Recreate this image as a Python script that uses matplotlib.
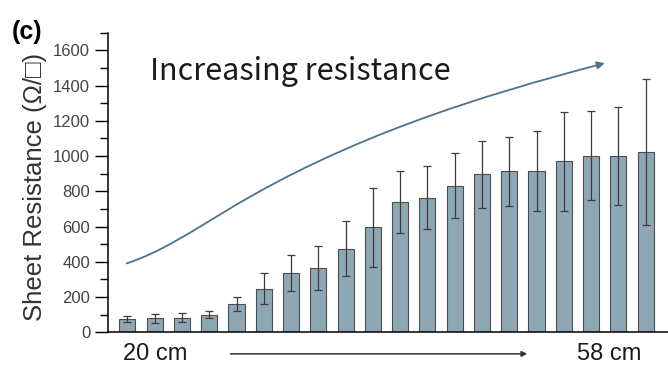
import numpy as np
import matplotlib
matplotlib.use("Agg")
import matplotlib.pyplot as plt
from matplotlib.ticker import MultipleLocator
from matplotlib.patches import FancyArrowPatch
from matplotlib.path import Path

# sheet resistance per sample, 20 cm -> 58 cm
resistance = [75, 79, 83, 100, 160, 246, 338, 367, 474, 596,
              741, 764, 832, 896, 914, 915, 970, 1002, 1002, 1022]
errors = [18, 24, 25, 20, 38, 88, 101, 125, 155, 223,
          175, 180, 184, 189, 196, 226, 281, 251, 278, 415]

# hand-drawn "increasing resistance" trend arrow: two bezier pieces
# (bar index, ohm/sq) -> start, ctrl, ctrl, mid, ctrl, ctrl, end
trend_pts = [(-0.03, 391), (1.2, 452), (2.44, 580), (3.67, 694),
             (8.1, 1110), (12.9, 1340), (17.5, 1527)]

bar_color = "#8ea7b5"
arrow_color = "#4b7391"

plt.rcParams["font.family"] = ["Liberation Sans", "DejaVu Sans"]

fig = plt.figure(figsize=(6.68, 3.66), dpi=100)
ax = fig.add_axes([107.5 / 668, 1 - 332.3 / 366, 1 - 107.5 / 668, (332.3 - 32.7) / 366])

x = np.arange(len(resistance))
ax.bar(x, resistance, width=0.59, color=bar_color, edgecolor="#4d4d4d",
       linewidth=0.8, zorder=2)
ax.errorbar(x, resistance, yerr=errors, fmt="none", ecolor="#3c3c3c",
            elinewidth=0.9, capsize=3, capthick=0.9, zorder=3)

ax.set_xlim(-0.73, 19.82)
ax.set_ylim(0, 1700)
ax.set_xticks([])
ax.yaxis.set_major_locator(MultipleLocator(200))
ax.yaxis.set_minor_locator(MultipleLocator(100))
ax.tick_params(axis="y", which="major", length=9.5, width=1, labelsize=12,
               labelcolor="#444444", pad=3)
ax.tick_params(axis="y", which="minor", length=5.5, width=1)
for s in ["top", "right"]:
    ax.spines[s].set_visible(False)
for s in ["left", "bottom"]:
    ax.spines[s].set_linewidth(1.1)

# trend arrow
codes = [Path.MOVETO] + [Path.CURVE4] * 6
trend = FancyArrowPatch(path=Path(trend_pts, codes), arrowstyle="-|>",
                        mutation_scale=11, color=arrow_color, lw=1.3,
                        transform=ax.transData, zorder=4)
ax.add_patch(trend)
ax.text(0.83, 1482, "Increasing resistance", fontsize=22,
        family=["Noto Sans CJK SC", "DejaVu Sans"], color="#1a1a1a",
        ha="left", va="center")

# length axis under the bars
trans = ax.get_xaxis_transform()
ax.text(1.03, -0.072, "20 cm", transform=trans, fontsize=17, ha="center",
        va="center", color="#1a1a1a")
ax.text(17.66, -0.072, "58 cm", transform=trans, fontsize=17, ha="center",
        va="center", color="#1a1a1a")
ax.annotate("", xy=(14.66, -0.072), xytext=(3.78, -0.072), xycoords=trans,
            textcoords=trans, annotation_clip=False,
            arrowprops=dict(arrowstyle="-|>", color="#333333", lw=1.1,
                            mutation_scale=8, shrinkA=0, shrinkB=0))

fig.text(35 / 668, 1 - 187 / 366, "Sheet Resistance (\u03a9/\u25a1)", rotation=90,
         fontsize=18.5, ha="center", va="center", color="#333333")
fig.text(27 / 668, 1 - 32 / 366, "(c)", fontsize=18, fontweight="bold",
         ha="center", va="center")

fig.savefig("out.png", dpi=100)
